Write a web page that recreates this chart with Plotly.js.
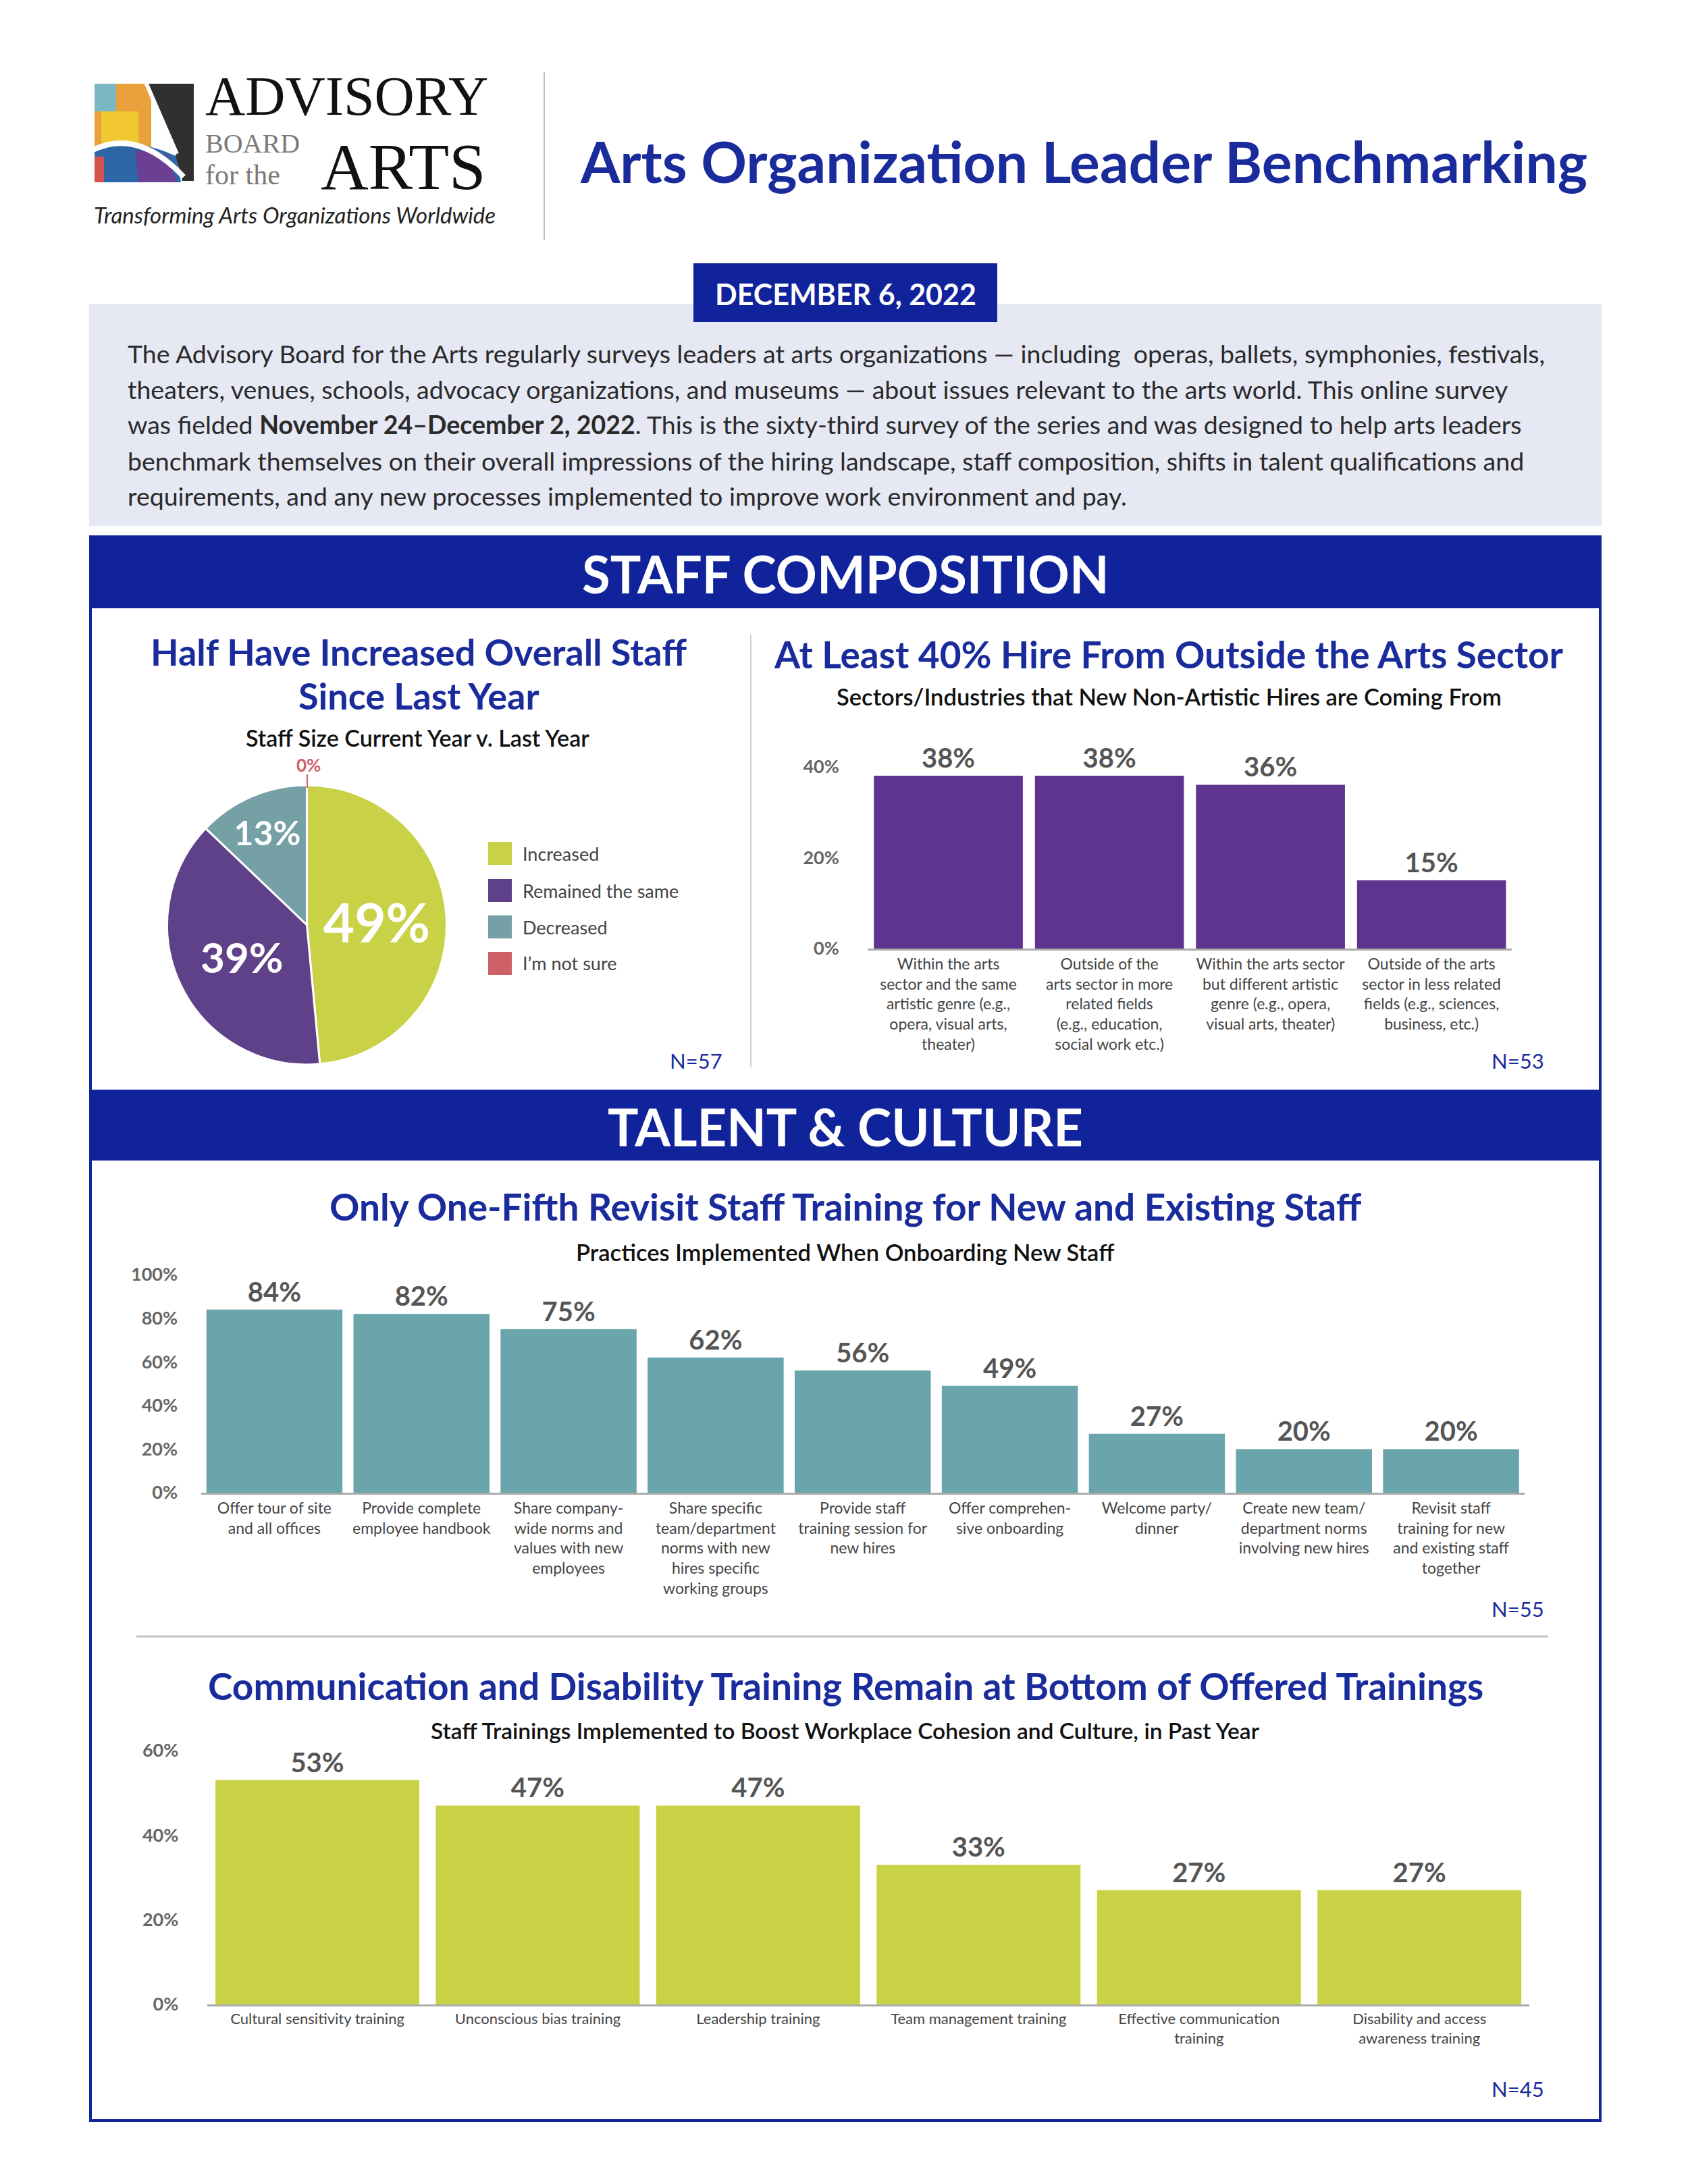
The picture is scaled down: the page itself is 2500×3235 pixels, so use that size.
<!DOCTYPE html>
<html>
<head>
<meta charset="utf-8">
<script src="https://cdn.plot.ly/plotly-3.0.1.min.js"></script>
<style>
html,body{margin:0;padding:0;background:#fff;}
#chart{width:2500px;height:3235px;}
</style>
</head>
<body>
<div id="chart"></div>
<script>
// ---------------- DATA ----------------
const pieLabels = ["Increased", "Remained the same", "Decreased", "I\u2019m not sure"];
const pieValues = [49, 39, 13, 0];
const pieColors = ["#c9d146", "#5f4189", "#75a0a5", "#cf6068"];

const hireCats = [
  "Within the arts<br>sector and the same<br>artistic genre (e.g.,<br>opera, visual arts,<br>theater)",
  "Outside of the<br>arts sector in more<br>related fields<br>(e.g., education,<br>social work etc.)",
  "Within the arts sector<br>but different artistic<br>genre (e.g., opera,<br>visual arts, theater)",
  "Outside of the arts<br>sector in less related<br>fields (e.g., sciences,<br>business, etc.)"
];
const hireValues = [38, 38, 36, 15];

const onboardCats = [
  "Offer tour of site<br>and all offices",
  "Provide complete<br>employee handbook",
  "Share company-<br>wide norms and<br>values with new<br>employees",
  "Share specific<br>team/department<br>norms with new<br>hires specific<br>working groups",
  "Provide staff<br>training session for<br>new hires",
  "Offer comprehen-<br>sive onboarding",
  "Welcome party/<br>dinner",
  "Create new team/<br>department norms<br>involving new hires",
  "Revisit staff<br>training for new<br>and existing staff<br>together"
];
const onboardValues = [84, 82, 75, 62, 56, 49, 27, 20, 20];

const trainCats = [
  "Cultural sensitivity training",
  "Unconscious bias training",
  "Leadership training",
  "Team management training",
  "Effective communication<br>training",
  "Disability and access<br>awareness training"
];
const trainValues = [53, 47, 47, 33, 27, 27];

const hireTicks = [0, 20, 40];
const onboardTicks = [0, 20, 40, 60, 80, 100];
const trainTicks = [0, 20, 40, 60];

// ---------------- HELPERS ----------------
const W = 2500, H = 3235;
const X = x => x / W;
const Y = y => 1 - y / H;
const BLUE = "#10239a";
const TITLE_BLUE = "#1a2b9b";
const FONT = "Lato, 'Open Sans', sans-serif";

const shapes = [];
const annotations = [];

function rect(x0, y0, x1, y1, fill, lineColor, lineWidth, layer) {
  shapes.push({type: "rect", xref: "paper", yref: "paper",
    x0: X(x0), x1: X(x1), y0: Y(y1), y1: Y(y0),
    fillcolor: fill || "rgba(0,0,0,0)",
    line: {color: lineColor || "rgba(0,0,0,0)", width: lineWidth || 0}, layer: layer || "below"});
}
function line(x0, y0, x1, y1, color, width, layer) {
  shapes.push({type: "line", xref: "paper", yref: "paper",
    x0: X(x0), x1: X(x1), y0: Y(y0), y1: Y(y1),
    line: {color: color, width: width}, layer: layer || "above"});
}
function pathShape(pts, fill, lineColor, lineWidth, closed) {
  let d = "";
  pts.forEach(p => {
    d += p[0] + " ";
    for (let i = 1; i < p.length; i += 2) d += X(p[i]) + "," + Y(p[i + 1]) + " ";
  });
  if (closed !== false) d += "Z";
  shapes.push({type: "path", xref: "paper", yref: "paper", path: d,
    fillcolor: fill || "rgba(0,0,0,0)",
    line: {color: lineColor || "rgba(0,0,0,0)", width: lineWidth || 0}, layer: "above"});
}
function text(x, y, t, size, color, opts) {
  opts = opts || {};
  annotations.push({xref: "paper", yref: "paper", x: X(x), y: Y(y), text: t,
    showarrow: false, xanchor: opts.xanchor || "center", yanchor: opts.yanchor || "middle",
    align: opts.align || "center", borderpad: 0,
    font: {family: opts.family || FONT, size: size, color: color, weight: opts.weight || 400,
           style: opts.style || "normal"}});
}

// ---------------- HEADER / LOGO ----------------
rect(140, 124, 224, 220, "#e9a23b", null, 0, "above");
rect(140, 124, 172, 165, "#7cb8c4", null, 0, "above");
rect(150, 165, 205, 212, "#f1c832", null, 0, "above");
pathShape([["M", 140, 222], ["Q", 195, 200, 262, 232], ["L", 268, 270], ["L", 140, 270]], "#2f66a8");
pathShape([["M", 200, 222], ["L", 248, 230], ["L", 262, 270], ["L", 205, 270]], "#6b3f92");
rect(140, 232, 154, 270, "#d6514b", null, 0, "above");
pathShape([["M", 216, 124], ["L", 287, 124], ["L", 287, 268], ["L", 270, 268], ["L", 258, 222]], "#303030");
pathShape([["M", 216, 122], ["L", 262, 228]], null, "#ffffff", 6, false);
pathShape([["M", 138, 222], ["Q", 205, 190, 272, 262]], null, "#ffffff", 8, false);

const SERIF = "'Liberation Serif', 'DejaVu Serif', serif";
text(303, 142, "ADVISORY", 82, "#111", {xanchor: "left", family: SERIF});
text(303, 212, "BOARD", 40, "#7a7a7a", {xanchor: "left", family: SERIF});
text(303, 259, "for the", 42, "#7a7a7a", {xanchor: "left", family: SERIF});
text(474, 247, "ARTS", 98, "#111", {xanchor: "left", family: SERIF});
text(138, 318, "Transforming Arts Organizations Worldwide", 33, "#222", {xanchor: "left", style: "italic"});

line(806, 107, 806, 355, "#bbbbbb", 2);

text(1605, 238, "Arts Organization Leader Benchmarking", 84, TITLE_BLUE, {weight: 700});

// ---------------- DATE + INTRO ----------------
rect(132, 450, 2372, 779, "#e6e8f4");
rect(1027, 390, 1477, 477, BLUE);
text(1252, 435, "DECEMBER 6, 2022", 43, "#ffffff", {weight: 700});

const introLines = [
  "The Advisory Board for the Arts regularly surveys leaders at arts organizations \u2014 including  operas, ballets, symphonies, festivals,",
  "theaters, venues, schools, advocacy organizations, and museums \u2014 about issues relevant to the arts world. This online survey",
  "was fielded <b>November 24\u2013December 2, 2022</b>. This is the sixty-third survey of the series and was designed to help arts leaders",
  "benchmark themselves on their overall impressions of the hiring landscape, staff composition, shifts in talent qualifications and",
  "requirements, and any new processes implemented to improve work environment and pay."
];
const introY = [523, 576, 629, 682, 735];
introLines.forEach((t, i) => text(188, introY[i], t, 37.5, "#2a2a2a", {xanchor: "left"}));

// ---------------- SECTION FRAME ----------------
rect(134, 795, 2370, 3141, null, BLUE, 4);
rect(132, 795, 2372, 901, BLUE);
text(1252, 850, "STAFF COMPOSITION", 76, "#ffffff", {weight: 700});
rect(132, 1614, 2372, 1719, BLUE);
text(1252, 1668, "TALENT &amp; CULTURE", 76, "#ffffff", {weight: 700});

line(1112, 940, 1112, 1581, "#d0d0d0", 2);
line(202, 2424, 2293, 2424, "#c4c4c4", 3);

// ---------------- PIE SECTION TEXT ----------------
text(620, 966, "Half Have Increased Overall Staff", 54, TITLE_BLUE, {weight: 700});
text(620, 1030, "Since Last Year", 54, TITLE_BLUE, {weight: 700});
text(618, 1092, "Staff Size Current Year v. Last Year", 34, "#111", {weight: 600});
text(457, 1133, "0%", 26, "#cf6068", {weight: 700});
line(455, 1147, 455, 1167, "#cf6068", 2);
const legY = [1264, 1319, 1373, 1427];
pieLabels.forEach((l, i) => {
  rect(723, legY[i] - 17, 758, legY[i] + 17, pieColors[i]);
  text(773, legY[i], l, 27, "#444", {xanchor: "left"});
});
text(1031, 1571, "N=57", 31, TITLE_BLUE);

// ---------------- CHART TITLES ----------------
text(1731, 969, "At Least 40% Hire From Outside the Arts Sector", 55, TITLE_BLUE, {weight: 700});
text(1731, 1031, "Sectors/Industries that New Non-Artistic Hires are Coming From", 34.5, "#111", {weight: 600});
text(2248, 1571, "N=53", 31, TITLE_BLUE);

text(1252, 1787, "Only One-Fifth Revisit Staff Training for New and Existing Staff", 55, TITLE_BLUE, {weight: 700});
text(1252, 1854, "Practices Implemented When Onboarding New Staff", 34.5, "#111", {weight: 600});
text(2248, 2383, "N=55", 31, TITLE_BLUE);

text(1252, 2497, "Communication and Disability Training Remain at Bottom of Offered Trainings", 55, TITLE_BLUE, {weight: 700});
text(1252, 2563, "Staff Trainings Implemented to Boost Workplace Cohesion and Culture, in Past Year", 33.5, "#111", {weight: 600});
text(2248, 3094, "N=45", 31, TITLE_BLUE);

// ---------------- TRACES ----------------
const valueFont = {family: FONT, size: 40, color: "#555555", weight: 700};
const pct = arr => arr.map(v => v + "%");
const traces = [
  {type: "pie", labels: pieLabels, values: pieValues, sort: false, direction: "clockwise", rotation: 0,
   marker: {colors: pieColors, line: {color: "#ffffff", width: 3}},
   text: pct(pieValues), textinfo: "text", textposition: ["inside", "inside", "inside", "none"],
   insidetextorientation: "horizontal",
   insidetextfont: {family: FONT, size: [80, 62, 50, 10], color: "#ffffff", weight: 700},
   domain: {x: [X(247.5), X(661.5)], y: [Y(1577), Y(1163)]}, hoverinfo: "none", showlegend: false},
  {type: "bar", x: hireCats, y: hireValues, xaxis: "x", yaxis: "y", marker: {color: "#5f3390"},
   text: pct(hireValues), textposition: "outside", textfont: valueFont, cliponaxis: false, hoverinfo: "none"},
  {type: "bar", x: onboardCats, y: onboardValues, xaxis: "x2", yaxis: "y2", marker: {color: "#6aa5ac"},
   text: pct(onboardValues), textposition: "outside", textfont: valueFont, cliponaxis: false, hoverinfo: "none"},
  {type: "bar", x: trainCats, y: trainValues, xaxis: "x3", yaxis: "y3", marker: {color: "#c9d245"},
   text: pct(trainValues), textposition: "outside", textfont: valueFont, cliponaxis: false, hoverinfo: "none"}
];

function xAxis(domain, anchor, size) {
  return {domain: domain, anchor: anchor, type: "category", showgrid: false, zeroline: false,
    showline: true, linecolor: "#ababab", linewidth: 3, ticks: "", fixedrange: true,
    tickfont: {family: FONT, size: size, color: "#454545"}, automargin: false};
}
function yAxis(domain, anchor, range, ticks, standoff) {
  return {domain: domain, anchor: anchor, range: range, tickmode: "array",
    tickvals: ticks, ticktext: pct(ticks),
    showgrid: false, zeroline: false, showline: false, ticks: "outside", ticklen: standoff,
    tickcolor: "rgba(0,0,0,0)", fixedrange: true,
    tickfont: {family: FONT, size: 27, color: "#666666", weight: 700}, automargin: false};
}

const layout = {
  width: W, height: H, margin: {l: 0, r: 0, t: 0, b: 0},
  paper_bgcolor: "#ffffff", plot_bgcolor: "rgba(0,0,0,0)",
  showlegend: false, bargap: 0.075,
  xaxis: xAxis([X(1285.3), X(2239.4)], "y", 23),
  yaxis: yAxis([Y(1405), Y(1135.5)], "x", [0, 40], hireTicks, 36),
  xaxis2: xAxis([X(297.5), X(2258)], "y2", 23),
  yaxis2: yAxis([Y(2211), Y(1888)], "x2", [0, 100], onboardTicks, 28),
  xaxis3: xAxis([X(306.8), X(2265.4)], "y3", 22),
  yaxis3: yAxis([Y(2969), Y(2593)], "x3", [0, 60], trainTicks, 36),
  shapes: shapes, annotations: annotations
};

Plotly.newPlot("chart", traces, layout, {staticPlot: true, displayModeBar: false});
</script>
</body>
</html>
